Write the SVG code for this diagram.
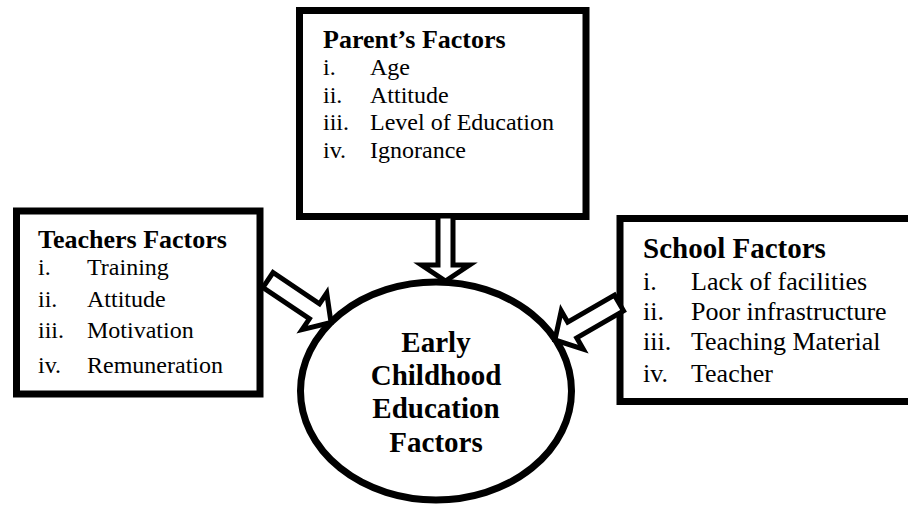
<svg xmlns="http://www.w3.org/2000/svg" width="908" height="508" viewBox="0 0 908 508">
<style>
.box{fill:#fff;stroke:#000;stroke-width:7}
.arrow{fill:#fff;stroke:#000;stroke-width:5;stroke-linejoin:miter}
text{font-family:Liberation Serif, Times New Roman, Times, serif;fill:#000}
.t{font-weight:bold;font-size:26px}
.li{font-size:24px}
.t2{font-weight:bold;font-size:29px}
.li2{font-size:26px}
.c{font-weight:bold;font-size:29px;text-anchor:middle}
</style>
<rect width="908" height="508" fill="#fff"/>
<g id="parent" font-family="Liberation Serif">
<rect class="box" x="299.5" y="10.5" width="286.5" height="206"/>
<text class="t" x="323" y="48">Parent’s Factors</text>
<text class="li" x="323" y="75">i.</text><text class="li" x="370" y="75">Age</text>
<text class="li" x="323" y="103">ii.</text><text class="li" x="370" y="103">Attitude</text>
<text class="li" x="323" y="130">iii.</text><text class="li" x="370" y="130">Level of Education</text>
<text class="li" x="323" y="158">iv.</text><text class="li" x="370" y="158">Ignorance</text>
</g>
<g id="teachers" font-family="Liberation Serif">
<rect class="box" x="16.5" y="211" width="243.5" height="183"/>
<text class="t" x="38" y="248">Teachers Factors</text>
<text class="li" x="38" y="275">i.</text><text class="li" x="87" y="275">Training</text>
<text class="li" x="38" y="307">ii.</text><text class="li" x="87" y="307">Attitude</text>
<text class="li" x="38" y="338">iii.</text><text class="li" x="87" y="338">Motivation</text>
<text class="li" x="38" y="373">iv.</text><text class="li" x="87" y="373">Remuneration</text>
</g>
<g id="school" font-family="Liberation Serif">
<rect class="box" x="620" y="218.5" width="300" height="183"/>
<text class="t2" x="643" y="258">School Factors</text>
<text class="li2" x="643" y="290">i.</text><text class="li2" x="691" y="290">Lack of facilities</text>
<text class="li2" x="643" y="320">ii.</text><text class="li2" x="691" y="320">Poor infrastructure</text>
<text class="li2" x="643" y="350">iii.</text><text class="li2" x="691" y="350">Teaching Material</text>
<text class="li2" x="643" y="382">iv.</text><text class="li2" x="691" y="382">Teacher</text>
</g>
<g id="center" font-family="Liberation Serif">
<ellipse class="box" cx="436" cy="391" rx="135.5" ry="109"/>
<text class="c" x="436" y="352">Early</text>
<text class="c" x="436" y="385">Childhood</text>
<text class="c" x="436" y="418">Education</text>
<text class="c" x="436" y="452">Factors</text>
</g>
<g id="connectors">
<polygon class="arrow" transform="translate(445.5,216) rotate(90)" points="0,-7.5 49,-7.5 49,-24 65,0 49,24 49,7.5 0,7.5"/>
<polygon class="arrow" transform="translate(268,280) rotate(34)" points="0,-9 56,-9 56,-22 76,0 56,22 56,9 0,9"/>
<polygon class="arrow" transform="translate(619,303) rotate(150)" points="0,-9 54,-9 54,-22 74,0 54,22 54,9 0,9"/>
</g>
</svg>
